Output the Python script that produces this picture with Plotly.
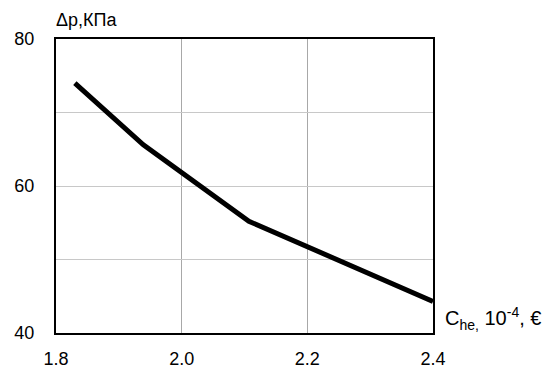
import plotly.graph_objects as go

x_vals = [1.830, 1.939, 2.107, 2.400]
dp_vals = [74.0, 65.6, 55.2, 44.3]

x_ticks = [1.8, 2.0, 2.2, 2.4]
x_ticktext = ["1.8", "2.0", "2.2", "2.4"]
y_ticks = [40, 50, 60, 70, 80]
y_ticktext = ["40", "", "60", "", "80"]

y_title = "Δp,КПа"
x_title = "C<sub>he</sub><sub>,</sub> 10<sup>-4</sup>, €"

fig = go.Figure()
fig.add_trace(go.Scatter(x=x_vals, y=dp_vals, mode="lines",
                         line=dict(color="black", width=5),
                         showlegend=False))

font = dict(family="Liberation Sans, Arial, sans-serif", size=18, color="black")

fig.update_layout(
    width=547, height=374,
    margin=dict(l=56, r=114, t=39, b=41, autoexpand=False),
    paper_bgcolor="white", plot_bgcolor="white",
    font=font,
    xaxis=dict(range=[1.8, 2.4], tickvals=x_ticks, ticktext=x_ticktext,
               showgrid=True, gridcolor="#a8a8a8", gridwidth=1,
               showline=True, linecolor="black", linewidth=2, mirror=True,
               ticks="outside", ticklen=8, tickcolor="rgba(0,0,0,0)",
               zeroline=False, tickfont=font, automargin=False),
    yaxis=dict(range=[40, 80], tickvals=y_ticks, ticktext=y_ticktext,
               showgrid=True, gridcolor="#c8c8c8", gridwidth=1,
               showline=True, linecolor="black", linewidth=2, mirror=True,
               ticks="outside", ticklen=16, tickcolor="rgba(0,0,0,0)",
               zeroline=False, tickfont=font, automargin=False),
    annotations=[
        dict(text=y_title, xref="paper", yref="paper", x=0, y=1.0,
             xanchor="left", yanchor="bottom", xshift=-2, yshift=7,
             showarrow=False, font=dict(family=font["family"], size=18, color="black")),
        dict(text=x_title, xref="paper", yref="paper", x=1.0, y=0.0,
             xanchor="left", yanchor="bottom", xshift=10, yshift=-2,
             showarrow=False, font=dict(family=font["family"], size=20, color="black")),
    ],
)

fig.write_html("out.html", config={"displayModeBar": False},
               post_script="document.body.style.margin='0';document.body.style.overflow='hidden';")
